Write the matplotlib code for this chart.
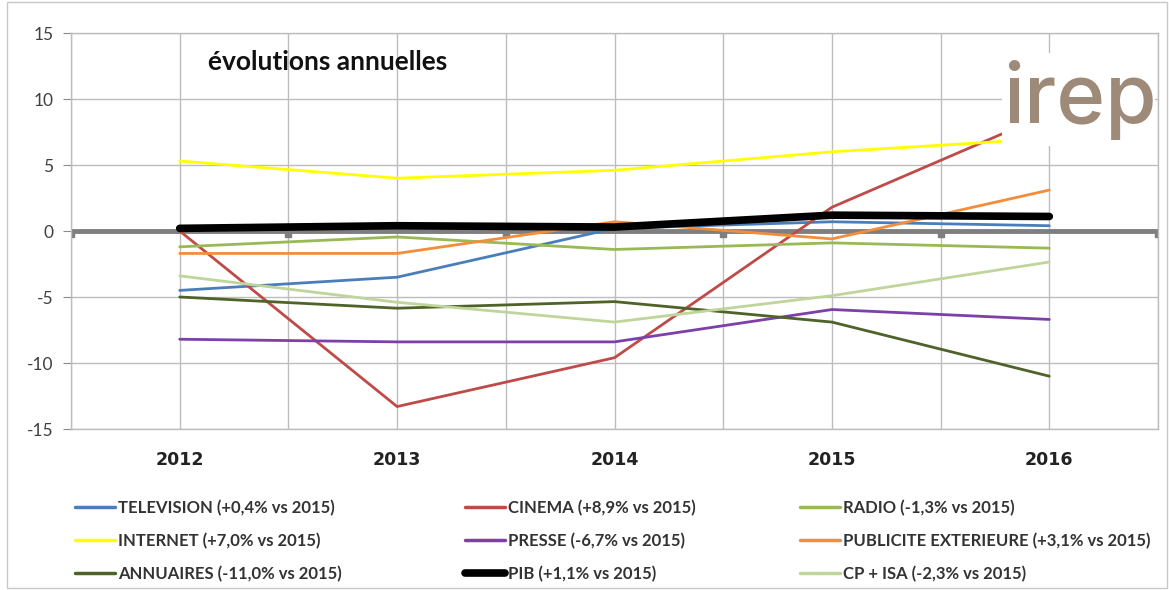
import numpy as np
import matplotlib
matplotlib.use("Agg")
import matplotlib.pyplot as plt
from matplotlib.patches import Rectangle

plt.rcParams['axes.unicode_minus'] = False

# données (évolutions annuelles en %)
years = [2012, 2013, 2014, 2015, 2016]
television = [-4.5, -3.5, 0.2, 0.7, 0.4]
cinema = [0.0, -13.3, -9.6, 1.8, 8.9]
radio = [-1.2, -0.45, -1.4, -0.9, -1.3]
internet = [5.3, 4.0, 4.6, 6.0, 7.0]
presse = [-8.2, -8.4, -8.4, -5.95, -6.7]
pub_ext = [-1.7, -1.7, 0.7, -0.6, 3.1]
annuaires = [-5.0, -5.85, -5.35, -6.9, -11.0]
pib = [0.2, 0.4, 0.3, 1.2, 1.1]
cp_isa = [-3.4, -5.4, -6.9, -4.9, -2.35]

labels = [
    'TELEVISION (+0,4% vs 2015)', 'CINEMA (+8,9% vs 2015)', 'RADIO (-1,3% vs 2015)',
    'INTERNET (+7,0% vs 2015)', 'PRESSE (-6,7% vs 2015)', 'PUBLICITE EXTERIEURE (+3,1% vs 2015)',
    'ANNUAIRES (-11,0% vs 2015)', 'PIB (+1,1% vs 2015)', 'CP + ISA (-2,3% vs 2015)',
]
series = [television, cinema, radio, internet, presse, pub_ext, annuaires, pib, cp_isa]
colors = ['#4A7EBB', '#BE4B48', '#98B954', '#FFFF00', '#7D3FA8', '#F38D3C',
          '#4F6228', '#000000', '#BFD59B']
widths = [2.0, 2.0, 2.0, 2.0, 2.0, 2.0, 2.0, 5.5, 2.0]

fig = plt.figure(figsize=(11.69, 5.90), dpi=100)
ax = fig.add_axes([71 / 1169, 1 - 429 / 590, (1158 - 71) / 1169, (429 - 33) / 590])

ax.set_xlim(years[0] - 0.5, years[-1] + 0.5)
ax.set_ylim(-15, 15)
ax.set_yticks(np.arange(-15, 16, 5))
ax.set_xticks(years)
ax.set_xticks(np.arange(years[0] - 0.5, years[-1] + 0.6, 1.0), minor=True)
ax.grid(True, which='both', color='#BDBDBD', lw=1.0)
ax.set_axisbelow(True)
for s in ax.spines.values():
    s.set_color('#BDBDBD')
    s.set_linewidth(1.0)

ax.tick_params(axis='y', length=5.5, color='#8A8A8A', labelsize=12.5, labelcolor='#404040', pad=7)
ax.tick_params(axis='x', which='both', length=0, pad=16)
for lab in ax.get_xticklabels():
    lab.set_fontweight('bold')
    lab.set_fontsize(12.5)
    lab.set_color('#222222')
for lab in ax.get_yticklabels():
    lab.set_family('Lato')

# axe horizontal gris à zéro, avec ses graduations
bounds = np.arange(years[0] - 0.5, years[-1] + 0.6, 1.0)
ax.axhline(0, color='#7F7F7F', lw=3.5, zorder=2)
ax.plot(bounds, np.zeros_like(bounds) - 0.25, ls='none', marker='s', ms=4,
        color='#7F7F7F', zorder=2)

handles = []
for vals, lab, c, w in zip(series, labels, colors, widths):
    h, = ax.plot(years, vals, color=c, lw=w, label=lab, solid_capstyle='round',
                 solid_joinstyle='round', zorder=3)
    handles.append(h)

ax.text(2012.13, 12.8, 'évolutions annuelles', fontsize=19, fontweight='bold',
        family='Lato', color='#111111', va='center', ha='left')

# logo irep sur fond blanc
fig.patches.append(Rectangle((1002 / 1169, 1 - 146 / 590), 153 / 1169, 93 / 590,
                             transform=fig.transFigure, facecolor='white',
                             edgecolor='none', zorder=5))
fig.text(1003 / 1169, 1 - 123 / 590, 'irep', fontsize=60, family='Inter',
         fontweight='medium', color='#9E8A78', ha='left', va='baseline', zorder=6)

# légende : une colonne par légende, positions fixes comme dans Excel
col_x = [75, 465, 800]
for k in range(3):
    idx = [k, k + 3, k + 6]
    leg = fig.legend([handles[i] for i in idx], [labels[i] for i in idx],
                     loc='upper left', bbox_to_anchor=(col_x[k] / 1169, 1 - 500 / 590),
                     frameon=False, borderpad=0, borderaxespad=0, handlelength=2.4,
                     handletextpad=0.2, labelspacing=1.0,
                     prop={'family': 'Lato', 'weight': 'bold', 'size': 12})
    for t in leg.get_texts():
        t.set_color('#333333')
    for i, lh in zip(idx, leg.legend_handles):
        lh.set_linewidth(5.5 if i == 7 else 2.5)

# cadre de la zone du graphique
fig.patches.append(Rectangle((7 / 1169, 2 / 590), 1160 / 1169, 586 / 590,
                             transform=fig.transFigure, facecolor='none',
                             edgecolor='#C8C8C8', lw=1.0))

fig.savefig('out.png', dpi=100)
